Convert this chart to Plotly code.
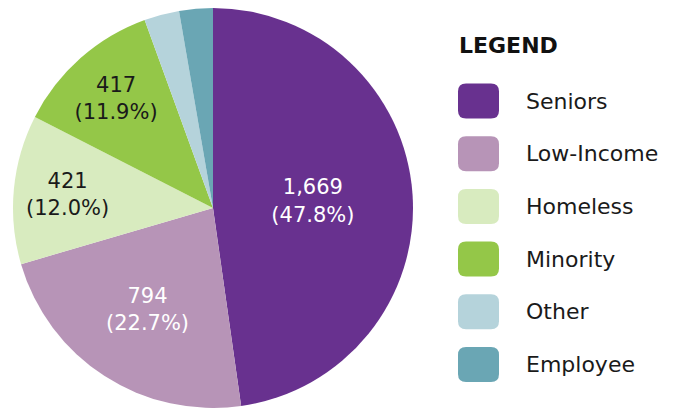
import plotly.graph_objects as go

W, H = 691, 408

categories = ["Seniors", "Low-Income", "Homeless", "Minority", "Other", "Employee"]
values = [1669, 794, 421, 417, 99, 95]
colors = ["#68318f", "#b794b7", "#d8ebbf", "#94c748", "#b5d3db", "#6aa6b4"]
text_colors = ["white", "white", "#1a1a1a", "#1a1a1a", "#1a1a1a", "#1a1a1a"]
shown = [True, True, True, True, False, False]

total = sum(values)
texts = []
for v, s in zip(values, shown):
    if s:
        texts.append(f"{v:,}<br>({100*v/total:.1f}%)")
    else:
        texts.append("")

FONT = "DejaVu Sans"

fig = go.Figure()
fig.add_trace(go.Pie(
    labels=categories, values=values, text=texts, textinfo="text",
    marker=dict(colors=colors, line=dict(width=0)),
    sort=False, direction="clockwise", rotation=0,
    insidetextorientation="horizontal",
    textfont=dict(family=FONT, size=21, color=text_colors),
    domain=dict(x=[13 / W, 413 / W], y=[0, 400 / H]),
    showlegend=False, hoverinfo="label+value+percent",
))

def px(x):
    return x / W

def py(y):
    return 1 - y / H

def rrect(x0, y0, x1, y1, r):
    X0, X1 = px(x0), px(x1)
    Y0, Y1 = py(y0), py(y1)
    rx, ry = r / W, r / H
    return (f"M {X0+rx},{Y0} L {X1-rx},{Y0} Q {X1},{Y0} {X1},{Y0-ry} "
            f"L {X1},{Y1+ry} Q {X1},{Y1} {X1-rx},{Y1} L {X0+rx},{Y1} "
            f"Q {X0},{Y1} {X0},{Y1+ry} L {X0},{Y0-ry} Q {X0},{Y0} {X0+rx},{Y0} Z")

shapes = []
annotations = [dict(text="<b>LEGEND</b>", x=px(457), y=py(45), xref="paper", yref="paper",
                    xanchor="left", yanchor="middle", showarrow=False,
                    font=dict(family=FONT, size=22, color="#111111"))]
row0, step = 101, 52.7
for i, (c, col) in enumerate(zip(categories, colors)):
    cy = row0 + i * step
    shapes.append(dict(type="path", path=rrect(458, cy - 17.5, 499, cy + 17.5, 8),
                       xref="paper", yref="paper", fillcolor=col, line=dict(width=0)))
    annotations.append(dict(text=c, x=px(524), y=py(cy), xref="paper", yref="paper",
                            xanchor="left", yanchor="middle", showarrow=False,
                            font=dict(family=FONT, size=22, color="#1a1a1a")))

fig.update_layout(
    width=W, height=H, margin=dict(l=0, r=0, t=0, b=0),
    paper_bgcolor="white", plot_bgcolor="white",
    shapes=shapes, annotations=annotations,
)

fig.write_html("out.html", config={"displayModeBar": False},
               post_script="document.body.style.margin='0';")
